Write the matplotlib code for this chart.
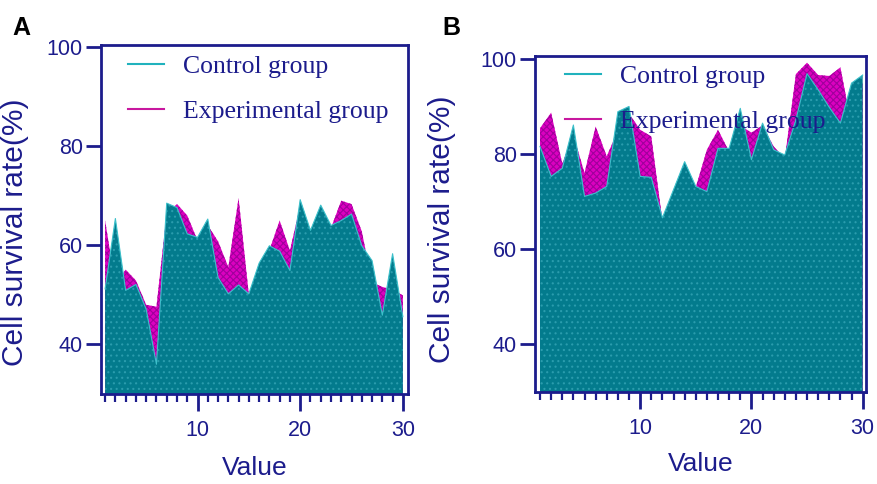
import matplotlib
matplotlib.use("Agg")
import matplotlib.pyplot as plt
from matplotlib.lines import Line2D
from matplotlib.ticker import FixedLocator, MultipleLocator
import numpy as np

# values, one per day 1..30
days = np.arange(1, 31)

control_a = [51.2, 65.4, 50.9, 52.1, 47.1, 36.0, 68.5, 67.6, 62.3, 61.6,
             65.3, 53.5, 50.2, 52.0, 50.2, 56.4, 59.9, 58.8, 54.9, 69.2,
             63.0, 68.1, 64.0, 65.0, 66.3, 59.9, 56.9, 45.9, 58.3, 45.6]
experimental_a = [65.0, 52.0, 55.1, 52.9, 48.0, 47.6, 66.5, 68.3, 66.0, 61.0,
                  64.0, 60.8, 55.6, 69.5, 50.0, 55.0, 59.0, 65.0, 58.9, 68.0,
                  62.0, 67.0, 63.5, 69.0, 68.3, 62.8, 52.5, 51.6, 51.0, 49.9]

control_b = [81.6, 75.3, 77.0, 86.1, 71.1, 71.8, 73.2, 88.9, 90.0, 75.3,
             75.1, 66.6, 72.5, 78.4, 73.2, 72.1, 81.2, 81.2, 89.6, 78.8,
             86.5, 80.9, 79.8, 87.2, 96.9, 93.5, 89.8, 86.5, 94.9, 96.6]
experimental_b = [85.4, 88.7, 78.0, 84.0, 76.0, 85.8, 79.5, 85.0, 88.5, 85.1,
                  83.7, 66.0, 71.0, 77.0, 73.0, 80.9, 85.1, 80.5, 86.0, 84.5,
                  86.0, 81.6, 79.0, 96.8, 99.2, 96.6, 96.4, 98.2, 86.0, 95.0]

series_names = ["Control group", "Experimental group"]
y_ticks = [40, 60, 80, 100]
x_major = [10, 20, 30]

NAVY = "#1c1c8c"
TEAL = "#037b8d"
TEAL_DOT = "#2a9cad"
TEAL_EDGE = "#3cc0ca"
MAGENTA = "#dc00c0"
MAGENTA_DARK = "#a0009c"

plt.rcParams["font.family"] = ["Liberation Sans", "DejaVu Sans"]
plt.rcParams["hatch.linewidth"] = 0.8

fig = plt.figure(figsize=(8.77, 4.84), dpi=100)
W, H = 877, 484


def px_axes(left, top, right, bottom):
    return fig.add_axes([left / W, 1 - bottom / H, (right - left) / W, (bottom - top) / H])


def draw_panel(ax, control, experimental, xlim, ylim, legend_xy, ylabel_xy, xlabel_y):
    base = ylim[0]
    ax.fill_between(days, experimental, base, facecolor=MAGENTA, edgecolor=MAGENTA_DARK,
                    hatch="xxxxx", linewidth=0, zorder=1)
    ax.fill_between(days, control, base, facecolor=TEAL, edgecolor=TEAL_DOT,
                    hatch="...", linewidth=0, zorder=2)
    ax.plot(days, control, color=TEAL_EDGE, lw=0.8, zorder=3)

    ax.set_xlim(*xlim)
    ax.set_ylim(*ylim)
    ax.xaxis.set_major_locator(FixedLocator(x_major))
    ax.xaxis.set_minor_locator(MultipleLocator(1))
    ax.yaxis.set_major_locator(FixedLocator(y_ticks))

    for s in ax.spines.values():
        s.set_color(NAVY)
        s.set_linewidth(2)
    ax.tick_params(axis="both", which="major", direction="out", color=NAVY,
                   labelcolor=NAVY, labelsize=15.5, width=2)
    ax.tick_params(axis="x", which="major", length=12, pad=7)
    ax.tick_params(axis="x", which="minor", length=6, width=1.6, color=NAVY)
    ax.tick_params(axis="y", which="major", length=11, pad=2)

    ax.set_ylabel("Cell survival rate(%)", fontsize=21.5, color=NAVY)
    ax.yaxis.set_label_coords(*ylabel_xy)
    ax.set_xlabel("Value", fontsize=19, color=NAVY)
    ax.xaxis.set_label_coords(0.5, xlabel_y)

    handles = [Line2D([], [], color="#20b2bd", lw=1.5),
               Line2D([], [], color="#c8189f", lw=1.5)]
    ax.legend(handles, series_names, loc="upper left", bbox_to_anchor=legend_xy,
              frameon=False, borderpad=0, borderaxespad=0, handlelength=1.4,
              handletextpad=0.75, labelspacing=0.85, labelcolor=NAVY,
              prop={"family": ["Liberation Serif", "DejaVu Serif"], "size": 18.5})


ax_a = px_axes(101, 45, 408, 394)
draw_panel(ax_a, control_a, experimental_a, (0.6, 30.5), (30, 100.4),
           (0.088, 0.97), (-0.235, 0.464), -0.178)

ax_b = px_axes(535, 56, 866, 392)
draw_panel(ax_b, control_b, experimental_b, (0.55, 30.3), (30, 100.6),
           (0.09, 0.972), (-0.24, 0.485), -0.178)

fig.text(12 / W, 1 - 28 / H, "A", fontsize=18, fontweight="bold", va="center")
fig.text(442 / W, 1 - 28 / H, "B", fontsize=18, fontweight="bold", va="center")

fig.savefig("out.png", dpi=100)
